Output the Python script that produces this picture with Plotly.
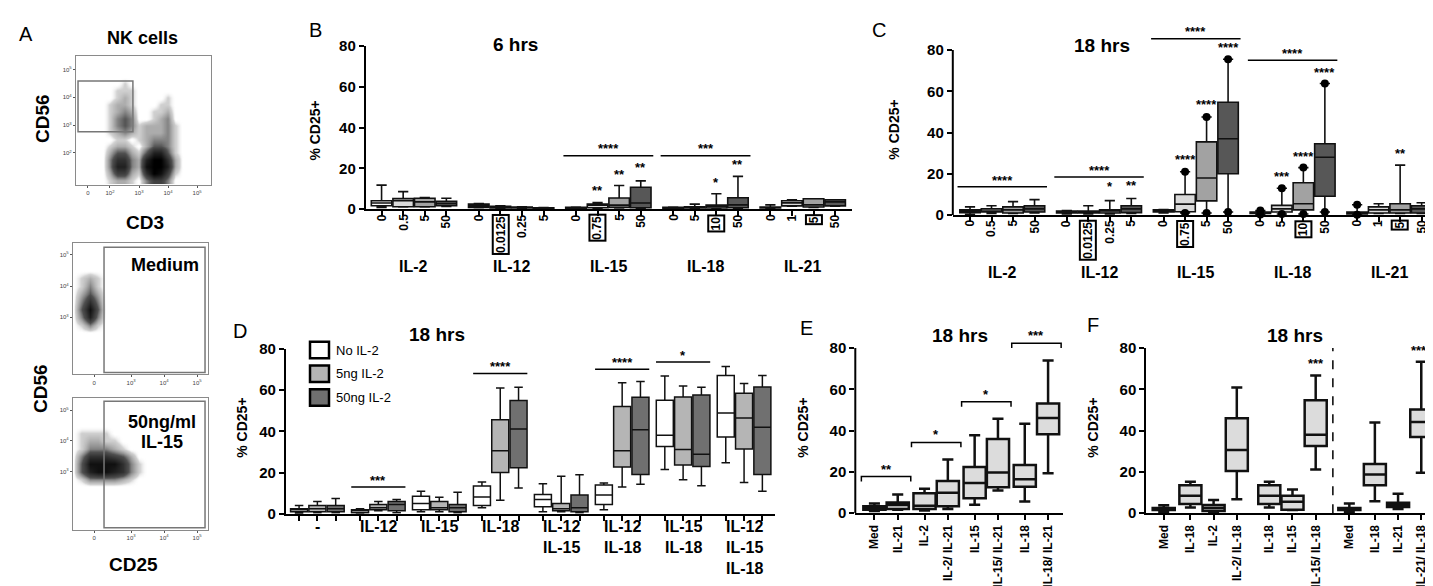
import plotly.graph_objects as go

W, H = 1433, 586
FONT = "Liberation Sans, Arial"

# ---------------- data ----------------
# box stats: (low whisker, q1, median, q3, high whisker), % CD25+
cytokines = ["IL-2", "IL-12", "IL-15", "IL-18", "IL-21"]
doses = [["0", "0.5", "5", "50"],
         ["0", "0.0125", "0.25", "5"],
         ["0", "0.75", "5", "50"],
         ["0", "5", "10", "50"],
         ["0", "1", "5", "50"]]
boxed_dose = [(1, 1), (2, 1), (3, 2), (4, 2)]

hrs6 = [
    [(0.8, 1.6, 2.9, 4.0, 11.7), (1.0, 1.1, 4.0, 5.1, 8.5), (1.0, 1.1, 3.5, 5.3, 5.6), (1.2, 1.6, 2.7, 3.8, 5.3)],
    [(0.6, 0.8, 1.6, 2.4, 2.7), (0.3, 0.5, 0.8, 1.3, 1.5), (0.3, 0.5, 0.7, 1.0, 1.1), (0.2, 0.3, 0.4, 0.6, 0.7)],
    [(0.2, 0.3, 0.5, 0.8, 1.0), (0.4, 0.6, 1.9, 2.4, 3.2), (0.5, 0.8, 1.9, 5.4, 11.5), (0.4, 0.6, 2.9, 10.7, 13.8)],
    [(0.2, 0.3, 0.5, 0.8, 1.0), (0.3, 0.5, 0.8, 1.1, 2.4), (0.3, 0.5, 1.3, 1.9, 7.5), (0.4, 0.6, 2.0, 5.5, 16.0)],
    [(0.3, 0.5, 0.8, 1.0, 2.0), (1.3, 1.5, 3.0, 4.0, 4.5), (0.8, 1.0, 2.0, 5.0, 5.0), (1.3, 1.5, 3.5, 4.5, 4.5)],
]
# significance: (group, dose index, y, text) and group bars (group, y, text)
stars6 = [(2, 1, 9.1, "**"), (2, 2, 17.1, "**"), (2, 3, 20.3, "**"), (3, 2, 13.1, "*"), (3, 3, 22.0, "**")]
bars6 = [(2, 26.2, "****"), (3, 26.2, "***")]

hrs18 = [
    [(0.3, 1.2, 2.0, 2.5, 4.0), (0.8, 1.5, 2.0, 3.0, 4.5), (0.8, 1.0, 2.5, 4.0, 6.5), (1.0, 1.5, 3.0, 4.5, 7.5)],
    [(0.5, 1.0, 1.5, 2.0, 2.2), (0.5, 1.0, 1.5, 2.0, 4.5), (0.5, 1.0, 2.0, 2.5, 7.0), (0.8, 1.2, 3.0, 4.5, 8.0)],
    [(1.0, 1.5, 2.0, 2.5, 2.7), (1.0, 1.6, 5.3, 10.0, 21.0), (1.0, 6.9, 18.0, 35.5, 47.5), (1.5, 20.0, 37.0, 54.7, 75.5)],
    [(0.3, 0.8, 1.0, 1.5, 2.2), (0.5, 1.5, 3.0, 4.7, 13.0), (0.5, 2.5, 5.5, 15.7, 23.0), (1.5, 9.1, 28.0, 34.6, 63.8)],
    [(0.2, 0.5, 1.0, 1.5, 5.0), (0.8, 1.0, 2.5, 4.0, 5.5), (0.8, 1.0, 2.5, 5.5, 24.2), (0.8, 1.0, 3.0, 4.5, 6.0)],
]
dots18 = [(2, 1), (2, 2), (2, 3), (3, 0), (3, 1), (3, 2), (3, 3), (4, 0)]
stars18 = [(1, 2, 13.7, "*"), (1, 3, 14.5, "**"), (2, 1, 27.0, "****"), (2, 2, 53.5, "****"),
           (2, 3, 81.0, "****"), (3, 1, 18.7, "***"), (3, 2, 28.3, "****"), (3, 3, 69.0, "****"),
           (4, 2, 30.0, "**")]
bars18 = [(0, 13.7, "****"), (1, 18.4, "****"), (2, 85.5, "****"), (3, 75.0, "****")]

combos = ["-", "IL-12", "IL-15", "IL-18", "IL-12<br>IL-15", "IL-12<br>IL-18",
          "IL-15<br>IL-18", "IL-12<br>IL-15<br>IL-18"]
il2_levels = ["No IL-2", "5ng IL-2", "50ng IL-2"]
combo18 = [
    [(0.3, 1.0, 2.0, 2.5, 4.0), (0.5, 1.0, 2.5, 4.0, 6.0), (0.5, 1.0, 2.5, 4.0, 7.5)],
    [(0.3, 0.5, 1.5, 2.0, 2.5), (1.5, 2.0, 3.0, 4.5, 6.0), (0.5, 1.5, 4.5, 6.0, 7.0)],
    [(1.0, 2.0, 5.0, 8.5, 11.0), (1.0, 2.0, 3.0, 6.0, 8.0), (0.5, 1.0, 3.0, 4.5, 10.5)],
    [(3.0, 4.0, 8.2, 13.5, 15.4), (6.6, 20.0, 30.6, 45.6, 61.0), (12.5, 22.3, 41.1, 54.9, 61.3)],
    [(1.0, 3.5, 7.0, 9.4, 14.6), (1.0, 1.5, 2.5, 5.0, 18.2), (0.5, 1.0, 3.0, 9.1, 19.0)],
    [(2.0, 4.5, 9.1, 14.0, 15.0), (13.0, 22.7, 30.6, 52.0, 63.5), (14.4, 19.1, 40.8, 56.5, 64.2)],
    [(21.5, 32.6, 38.1, 55.0, 66.8), (16.5, 23.7, 31.2, 56.6, 62.0), (13.6, 23.0, 28.9, 57.6, 61.3)],
    [(24.8, 37.2, 48.9, 67.0, 71.4), (15.2, 31.4, 46.4, 58.5, 63.2), (11.0, 19.1, 42.0, 61.5, 67.0)],
]
bars_combo = [(1, 13.0, "***"), (3, 68.0, "****"), (5, 70.1, "****"), (6, 73.6, "*")]

il21_labels = ["Med", "IL-21", "IL-2", "IL-2/ IL-21", "IL-15", "IL-15/ IL-21", "IL-18", "IL-18/ IL-21"]
il21_stats = [(1.0, 1.7, 2.5, 3.3, 4.7), (1.6, 2.0, 3.9, 5.2, 9.1), (1.3, 2.0, 3.6, 9.6, 11.8),
              (2.0, 3.3, 9.9, 15.6, 26.0), (4.1, 7.2, 14.6, 22.4, 37.8), (11.0, 12.6, 19.7, 35.9, 45.8),
              (5.7, 12.8, 16.5, 23.3, 43.3), (19.4, 38.3, 46.1, 53.2, 74.0)]
il21_brackets = [(0, 17.8, "**"), (1, 34.3, "*"), (2, 54.0, "*"), (3, 82.4, "***")]

il18_labels = ["Med", "IL-18", "IL-2", "IL-2/ IL-18", "IL-18", "IL-15", "IL-15/ IL-18",
               "Med", "IL-18", "IL-21", "IL-21/ IL-18"]
il18_stats = [(0.5, 1.5, 2.0, 2.5, 3.9), (2.8, 4.5, 8.5, 13.5, 15.2), (0.5, 1.0, 2.5, 4.0, 6.4),
              (6.7, 20.5, 30.6, 46.0, 60.9), (2.8, 4.5, 8.5, 13.5, 15.2), (1.5, 1.7, 5.5, 8.5, 11.5),
              (21.2, 32.6, 38.0, 54.7, 66.7), (0.5, 1.5, 2.0, 2.5, 4.7), (5.8, 13.5, 18.8, 23.8, 43.9),
              (2.0, 3.0, 4.0, 5.0, 9.4), (19.6, 36.9, 44.2, 50.2, 73.4)]
il18_stars = [(6, 72.6, "***"), (10, 78.9, "****")]

# flow plots: cell density read on a grid (rows top -> bottom), 0 = empty, 9 = densest
flow_cd3 = ["000000000000000000", "000000000000000000", "000000000000000000",
            "000000100000000000", "000001110000000000", "000001210000100000",
            "000012210001100000", "000012320011200000", "000013430012300000",
            "000013431222310000", "000012321222310000", "000001101233310000",
            "000012210244310000", "000024421477410000", "000036632799620000",
            "000037732899720000", "000025521698510000", "000012210355300000"]
flow_medium = ["00000000000000000", "00000000000000000", "00000000000000000",
               "00000000000000000", "01210000000000000", "01310000000000000",
               "02420000000000000", "03630000000000000", "04840000000000000",
               "03730000000000000", "01310000000000000", "00000000000000000",
               "00000000000000000", "00000000000000000", "00000000000000000",
               "00000000000000000", "00000000000000000"]
flow_il15 = ["00000000000000000", "00000000000000000", "00000000000000000",
             "00000000000000000", "01111000000000000", "01221100000000000",
             "01333210000000000", "03666542000000000", "04888863100000000",
             "04788763100000000", "01333321000000000", "00000000000000000",
             "00000000000000000", "00000000000000000", "00000000000000000",
             "00000000000000000", "00000000000000000"]


def dom_x(a, b):
    return [a / W, b / W]


def dom_y(top, bottom):
    return [1 - bottom / H, 1 - top / H]


def f(size, bold=True, color="black"):
    return dict(family=FONT, size=size, color=color, weight="bold" if bold else "normal")


fig = go.Figure()
ann = []
shp = []

# ---------------- panel A ----------------
dens_scale = [[0, "rgba(255,255,255,0)"], [0.1, "rgba(190,190,190,0.7)"], [0.45, "#505050"], [1, "#000000"]]
for rows, ax, x0, y0 in [(flow_cd3, "", 1.0, 1.0), (flow_medium, "2", 1.25, 1.25), (flow_il15, "3", 1.25, 1.25)]:
    z = [[int(c) for c in r] for r in reversed(rows)]
    fig.add_trace(go.Heatmap(z=z, x0=x0, dx=0.25, y0=y0, dy=0.25, zmin=0, zmax=9,
                             colorscale=dens_scale, showscale=False, zsmooth="best",
                             hoverinfo="skip", xaxis="x" + ax, yaxis="y" + ax))

flow_ax = dict(showline=True, mirror=True, linecolor="#8a8a8a", linewidth=1.2, ticks="outside",
               ticklen=2, tickcolor="#555", tickfont=dict(family="Liberation Sans", size=6, color="#444"),
               showgrid=False, zeroline=False)
dec = ["10<sup>2</sup>", "10<sup>3</sup>", "10<sup>4</sup>", "10<sup>5</sup>"]
fig.update_layout(
    xaxis=dict(flow_ax, domain=dom_x(68, 203), range=[0.83, 5.48], anchor="y",
               tickvals=[1.24, 2, 3, 4, 5], ticktext=["0"] + dec),
    yaxis=dict(flow_ax, domain=dom_y(40, 173), range=[0.85, 5.49], anchor="x",
               tickvals=[2, 3, 4, 5], ticktext=dec),
    xaxis2=dict(flow_ax, domain=dom_x(65, 200), range=[1.24, 5.33], anchor="y2",
                tickvals=[1.88, 3, 4, 5], ticktext=["0"] + dec[1:]),
    yaxis2=dict(flow_ax, domain=dom_y(233, 368), range=[1.16, 5.375], anchor="x2",
                tickvals=[3, 4, 5], ticktext=dec[1:]),
    xaxis3=dict(flow_ax, domain=dom_x(65, 200), range=[1.24, 5.33], anchor="y3",
                tickvals=[1.88, 3, 4, 5], ticktext=["0"] + dec[1:]),
    yaxis3=dict(flow_ax, domain=dom_y(392, 528), range=[1.1, 5.41], anchor="x3",
                tickvals=[3, 4, 5], ticktext=dec[1:]),
)
gate = dict(type="rect", line=dict(color="#777", width=1.5), fillcolor="rgba(0,0,0,0)")
shp.append(dict(gate, xref="x", yref="y", x0=0.9, x1=2.79, y0=2.76, y1=4.59))
shp.append(dict(gate, xref="x2", yref="y2", x0=2.18, x1=5.24, y0=1.22, y1=5.25))
shp.append(dict(gate, xref="x3", yref="y3", x0=2.18, x1=5.24, y0=1.16, y1=5.29))


def label(x, y, text, font, **kw):
    d = dict(x=x / W, y=1 - y / H, xref="paper", yref="paper", text=text, showarrow=False, font=font,
             xanchor="center", yanchor="middle")
    d.update(kw)
    ann.append(d)


label(18, 17, "A", f(20, False))
label(134, 22, "NK cells", f(18))
label(35, 105, "CD56", f(19), textangle=-90)
label(137, 212, "CD3", f(19))
label(157, 255, "Medium", f(18))
label(154, 417, "50ng/ml", f(18))
label(154, 438, "IL-15", f(18))
label(33, 383, "CD56", f(19), textangle=-90)
label(125, 564, "CD25", f(19))

# ---------------- shared axis styles ----------------
yax = dict(tickvals=[0, 20, 40, 60, 80], ticks="outside", ticklen=5, tickwidth=2, tickcolor="black",
           showline=True, linewidth=2, linecolor="black", showgrid=False, zeroline=False,
           tickfont=f(15))
xax = dict(showline=True, linewidth=2, linecolor="black", ticks="outside", ticklen=5, tickwidth=1.5,
           tickcolor="black", showgrid=False, zeroline=False, showticklabels=False)


def add_box(pos, stats, xa, ya, fill, lw, width):
    fig.add_trace(go.Box(x=pos, lowerfence=[s[0] for s in stats], q1=[s[1] for s in stats],
                         median=[s[2] for s in stats], q3=[s[3] for s in stats],
                         upperfence=[s[4] for s in stats], xaxis=xa, yaxis=ya, fillcolor=fill,
                         line=dict(color="#111", width=lw), width=width, whiskerwidth=0.5,
                         boxpoints=False, hoverinfo="skip", showlegend=False))


def star(xa, ya, x, y, text):
    ann.append(dict(x=x, y=y, xref=xa, yref=ya, text=text, showarrow=False, font=f(13),
                    xanchor="center", yanchor="middle"))


# ---------------- panels B and C ----------------
dose_fill = ["#fafafa", "#dadada", "#a2a2a2", "#575757"]
GAP = 4.5
for data, sts, brs, xa, ya, ytick_top, ylab in [
        (hrs6, stars6, bars6, "x4", "y4", 203, 257),
        (hrs18, stars18, bars18, "x5", "y5", 209, 263)]:
    for i in range(4):
        add_box([GAP * g + i for g in range(5)], [data[g][i] for g in range(5)], xa, ya,
                dose_fill[i], 1.6, 0.95)
    for g, grp in enumerate(doses):
        for i, d in enumerate(grp):
            boxed = (g, i) in boxed_dose
            ann.append(dict(x=GAP * g + i, xref=xa, y=1 - ytick_top / H, yref="paper", text=d,
                            textangle=-90, xanchor="center", yanchor="top", showarrow=False,
                            font=f(12), bordercolor="black" if boxed else "rgba(0,0,0,0)",
                            borderwidth=2 if boxed else 0, borderpad=0))
        ann.append(dict(x=GAP * g + 1.5, xref=xa, y=1 - ylab / H, yref="paper", text=cytokines[g],
                        xanchor="center", yanchor="middle", showarrow=False, font=f(16)))
    for g, i, y, t in sts:
        star(xa, ya, GAP * g + i, y, t)
    for g, y, t in brs:
        shp.append(dict(type="line", xref=xa, yref=ya, x0=GAP * g - 0.58, x1=GAP * g + 3.58,
                        y0=y, y1=y, line=dict(color="black", width=1.5)))
        star(xa, ya, GAP * g + 1.5, y + 3.3, t)

# dots at the extremes in C
dx_, dy_ = [], []
for g, i in dots18:
    dx_ += [GAP * g + i, GAP * g + i]
    dy_ += [hrs18[g][i][0], hrs18[g][i][4]]
fig.add_trace(go.Scatter(x=dx_, y=dy_, mode="markers", marker=dict(color="black", size=8),
                         xaxis="x5", yaxis="y5", hoverinfo="skip", showlegend=False, cliponaxis=False))
pos_all = [GAP * g + i for g in range(5) for i in range(4)]

fig.update_layout(
    xaxis4=dict(xax, domain=dom_x(357.8, 844), range=[-0.73, 21.78], anchor="y4", tickvals=pos_all),
    yaxis4=dict(yax, domain=dom_y(30, 197.7), range=[0, 80], anchor="x4"),
    xaxis5=dict(xax, domain=dom_x(944.8, 1433), range=[-0.8, 21.9], anchor="y5", tickvals=pos_all),
    yaxis5=dict(yax, domain=dom_y(204 - 95 * 2.125, 204), range=[0, 95], anchor="x5", showline=False),
)
shp.append(dict(type="line", xref="paper", yref="y5", x0=944.8 / W, x1=944.8 / W, y0=0, y1=80,
                line=dict(color="black", width=2)))
label(307, 13, "B", f(20, False))
label(307, 117, "% CD25+", f(14), textangle=-90)
label(507, 28, "6 hrs", f(19))
label(871, 13, "C", f(20, False))
label(886, 116, "% CD25+", f(14), textangle=-90)
label(1094, 29, "18 hrs", f(19))

# ---------------- panel D ----------------
il2_fill = ["#ffffff", "#b5b5b5", "#707070"]
GD = 3.33
for i in range(3):
    add_box([GD * g + i for g in range(8)], [combo18[g][i] for g in range(8)], "x6", "y6",
            il2_fill[i], 1.5, 0.93)
for g, c in enumerate(combos):
    ann.append(dict(x=GD * g + 1, xref="x6", y=1 - 514 / H, yref="paper", xanchor="center",
                    yanchor="top", text=c, showarrow=False, font=f(16)))
for g, y, t in bars_combo:
    shp.append(dict(type="line", xref="x6", yref="y6", x0=GD * g - 0.48, x1=GD * g + 2.48,
                    y0=y, y1=y, line=dict(color="black", width=1.5)))
    star("x6", "y6", GD * g + 1, y + 3.3, t)
for i, name in enumerate(il2_levels):
    yc = 343 + i * 24.4
    shp.append(dict(type="rect", xref="paper", yref="paper", x0=302 / W, x1=321 / W,
                    y0=1 - (yc + 8.5) / H, y1=1 - (yc - 8.5) / H,
                    line=dict(color="black", width=2.5), fillcolor=il2_fill[i]))
    label(326, yc, name, f(13, False), xanchor="left")
fig.update_layout(
    xaxis6=dict(xax, domain=dom_x(277.9, 767), range=[-0.72, 26.0], anchor="y6",
                tickvals=[GD * g + i for g in range(8) for i in range(3)]),
    yaxis6=dict(yax, domain=dom_y(341.7, 511.7), range=[0, 80], anchor="x6"),
)
label(232, 323, "D", f(20, False))
label(234, 423, "% CD25+", f(14), textangle=-90)
label(429, 327, "18 hrs", f(19))

# ---------------- panel E ----------------
pos_e = [0, 1, 2.15, 3.15, 4.3, 5.3, 6.45, 7.45]
add_box(pos_e, il21_stats, "x7", "y7", "#dcdcdc", 2.5, 0.95)
for p, y, t in il21_brackets:
    a, b = pos_e[2 * p] - 0.56, pos_e[2 * p + 1] + 0.56
    shp.append(dict(type="path", xref="x7", yref="y7",
                    path=f"M {a},{y - 2.4} L {a},{y} L {b},{y} L {b},{y - 2.4}",
                    line=dict(color="black", width=1.5)))
    star("x7", "y7", (a + b) / 2, y + 3.6, t)
fig.update_layout(
    xaxis7=dict(xax, domain=dom_x(847.3, 1055), range=[-0.82, 8.09], anchor="y7", tickvals=pos_e,
                ticktext=il21_labels, showticklabels=True, tickangle=-90, tickfont=f(12)),
    yaxis7=dict(yax, domain=dom_y(511 - 90 * 2.125, 511), range=[0, 90], anchor="x7", showline=False),
)
shp.append(dict(type="line", xref="paper", yref="y7", x0=847.3 / W, x1=847.3 / W, y0=0, y1=80,
                line=dict(color="black", width=2)))
label(798, 320, "E", f(20, False))
label(795, 423, "% CD25+", f(14), textangle=-90)
label(952, 328, "18 hrs", f(19))

# ---------------- panel F ----------------
pos_f = [0, 1.15, 2.15, 3.15, 4.55, 5.55, 6.55, 8.0, 9.1, 10.1, 11.1]
add_box(pos_f, il18_stats, "x8", "y8", "#dcdcdc", 2.5, 0.95)
for k, y, t in il18_stars:
    star("x8", "y8", pos_f[k], y, t)
shp.append(dict(type="line", xref="x8", yref="y8", x0=7.29, x1=7.29, y0=0, y1=80,
                line=dict(color="black", width=1.5, dash="dash")))
fig.update_layout(
    xaxis8=dict(xax, domain=dom_x(1138.3, 1433), range=[-0.75, 11.95], anchor="y8", tickvals=pos_f,
                ticktext=il18_labels, showticklabels=True, tickangle=-90, tickfont=f(12)),
    yaxis8=dict(yax, domain=dom_y(341, 511), range=[0, 80], anchor="x8"),
)
label(1085, 317, "F", f(20, False))
label(1085, 423, "% CD25+", f(14), textangle=-90)
label(1287, 328, "18 hrs", f(19))

fig.update_layout(width=W, height=H, margin=dict(l=0, r=0, t=0, b=0), boxmode="overlay",
                  paper_bgcolor="white", plot_bgcolor="white", showlegend=False,
                  annotations=ann, shapes=shp)
fig.write_html("out.html")
